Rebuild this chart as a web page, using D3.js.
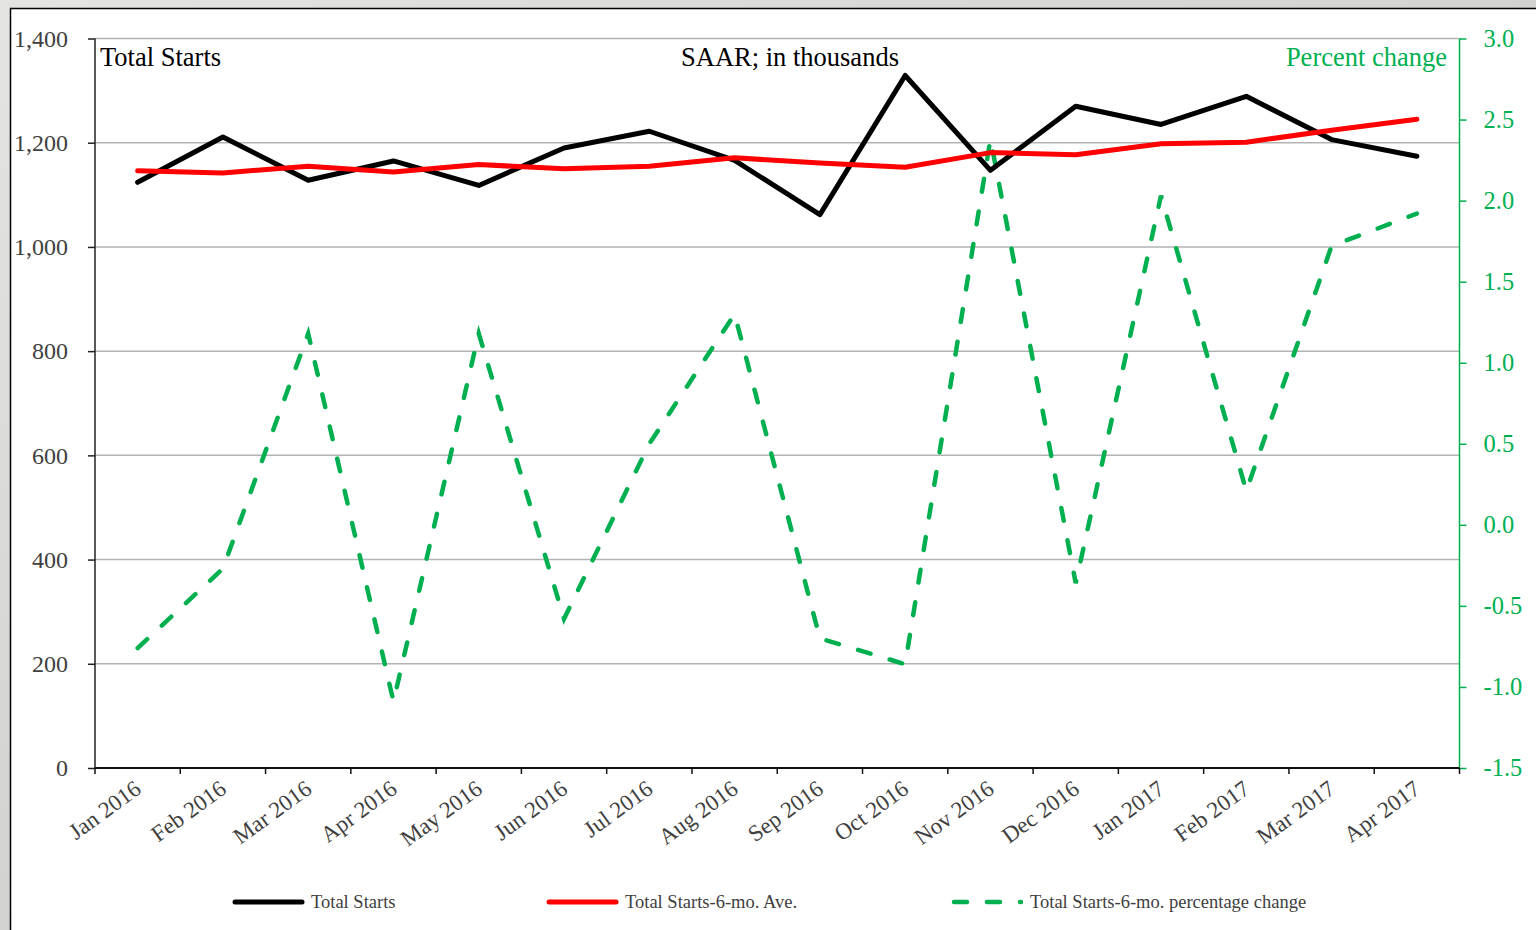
<!DOCTYPE html>
<html>
<head>
<meta charset="utf-8">
<script src="https://cdn.jsdelivr.net/npm/d3@7"></script>
<style>
  html, body { margin: 0; padding: 0; background: #dcdcd8; }
  svg { display: block; }
</style>
</head>
<body>
<svg id="chart"></svg>
<script>
let months = ["Jan 2016", "Feb 2016", "Mar 2016", "Apr 2016", "May 2016", "Jun 2016",
              "Jul 2016", "Aug 2016", "Sep 2016", "Oct 2016", "Nov 2016", "Dec 2016",
              "Jan 2017", "Feb 2017", "Mar 2017", "Apr 2017"];

let totalStarts = [1124, 1211, 1128, 1165, 1118, 1190, 1222, 1166,
                   1062, 1329, 1147, 1270, 1235, 1289, 1206, 1174];

let sixMoAve = [1146, 1142, 1155, 1144, 1158, 1150, 1155, 1171,
                1161, 1153, 1181, 1177, 1198, 1201, 1224, 1245];

let pctChange = [-0.76, -0.27, 1.18, -1.09, 1.18, -0.58, 0.50, 1.30,
                 -0.70, -0.86, 2.38, -0.36, 2.03, 0.21, 1.72, 1.92];

let leftTicks = [0, 200, 400, 600, 800, 1000, 1200, 1400];
let rightTicks = [-1.5, -1.0, -0.5, 0.0, 0.5, 1.0, 1.5, 2.0, 2.5, 3.0];

let width = 1536;
let height = 930;
let plotLeft = 95;
let plotRight = 1459.5;
let plotTop = 38.5;
let plotBottom = 768;

let green = "#00B050";
let serif = "'Liberation Serif', 'Times New Roman', serif";

let svg = d3.select("#chart")
    .attr("width", width)
    .attr("height", height);

// background and frame
let defs = svg.append("defs");
let grad = defs.append("linearGradient")
    .attr("id", "bg")
    .attr("x1", "0").attr("y1", "0").attr("x2", "1").attr("y2", "1");
grad.append("stop").attr("offset", "0").attr("stop-color", "#e4e4e0");
grad.append("stop").attr("offset", "0.5").attr("stop-color", "#d2d2ce");
grad.append("stop").attr("offset", "1").attr("stop-color", "#e2e2de");

svg.append("rect")
    .attr("width", width)
    .attr("height", height)
    .attr("fill", "url(#bg)");

svg.append("rect")
    .attr("x", 10.5)
    .attr("y", 8.5)
    .attr("width", width)
    .attr("height", height)
    .attr("fill", "white")
    .attr("stroke", "black")
    .attr("stroke-width", 1.5);

// scales
let xScale = d3.scaleBand()
    .domain(months)
    .range([plotLeft, plotRight]);

let xMid = (d) => xScale(d) + xScale.bandwidth() / 2;

let yLeft = d3.scaleLinear()
    .domain([0, 1400])
    .range([plotBottom, plotTop]);

let yRight = d3.scaleLinear()
    .domain([-1.5, 3])
    .range([plotBottom, plotTop]);

// gridlines
svg.append("g")
    .selectAll("line")
    .data(leftTicks.filter(d => d > 0))
    .enter()
    .append("line")
    .attr("x1", plotLeft)
    .attr("x2", plotRight)
    .attr("y1", d => yLeft(d))
    .attr("y2", d => yLeft(d))
    .attr("stroke", "#b3b3b3")
    .attr("stroke-width", 1.5);

// left axis
let yAxisLeft = d3.axisLeft(yLeft)
    .tickValues(leftTicks)
    .tickFormat(d3.format(","))
    .tickSize(7)
    .tickPadding(20);

let gl = svg.append("g")
    .attr("transform", "translate(" + plotLeft + ",0)")
    .call(yAxisLeft);
gl.select(".domain").remove();
gl.selectAll(".tick line").attr("stroke", "#222").attr("stroke-width", 1.5);
gl.selectAll(".tick text")
    .attr("fill", "#404040")
    .style("font-family", serif)
    .style("font-size", "24px");

svg.append("line")
    .attr("x1", plotLeft).attr("x2", plotLeft)
    .attr("y1", plotTop).attr("y2", plotBottom)
    .attr("stroke", "#222")
    .attr("stroke-width", 1.5);

// right axis
let yAxisRight = d3.axisRight(yRight)
    .tickValues(rightTicks)
    .tickFormat(d => d.toFixed(1))
    .tickSize(7)
    .tickPadding(17);

let gr = svg.append("g")
    .attr("transform", "translate(" + plotRight + ",0)")
    .call(yAxisRight);
gr.select(".domain").remove();
gr.selectAll(".tick line").attr("stroke", green).attr("stroke-width", 1.5);
gr.selectAll(".tick text")
    .attr("fill", green)
    .style("font-family", serif)
    .style("font-size", "24.5px");

svg.append("line")
    .attr("x1", plotRight).attr("x2", plotRight)
    .attr("y1", plotTop).attr("y2", plotBottom)
    .attr("stroke", green)
    .attr("stroke-width", 1.5);

// x axis
let tickEdges = months.map(d => xScale(d)).concat([plotRight]);

svg.append("line")
    .attr("x1", plotLeft).attr("x2", plotRight)
    .attr("y1", plotBottom).attr("y2", plotBottom)
    .attr("stroke", "#111")
    .attr("stroke-width", 2);

svg.append("g")
    .selectAll("line")
    .data(tickEdges)
    .enter()
    .append("line")
    .attr("x1", d => d).attr("x2", d => d)
    .attr("y1", plotBottom).attr("y2", plotBottom + 6)
    .attr("stroke", "#111")
    .attr("stroke-width", 1.5);

svg.append("g")
    .selectAll("text")
    .data(months)
    .enter()
    .append("text")
    .attr("transform", d => "translate(" + (xMid(d) + 5) + "," + (plotBottom + 24) + ")rotate(-36)")
    .attr("text-anchor", "end")
    .attr("fill", "#404040")
    .style("font-family", serif)
    .style("font-size", "23px")
    .text(d => d);

// lines
let lineLeft = d3.line()
    .x((d, i) => xMid(months[i]))
    .y(d => yLeft(d));

let lineRight = d3.line()
    .x((d, i) => xMid(months[i]))
    .y(d => yRight(d));

svg.append("path")
    .datum(pctChange)
    .attr("d", lineRight)
    .attr("fill", "none")
    .attr("stroke", green)
    .attr("stroke-width", 4.5)
    .attr("stroke-dasharray", "13,20")
    .attr("stroke-linecap", "round");

svg.append("path")
    .datum(totalStarts)
    .attr("d", lineLeft)
    .attr("fill", "none")
    .attr("stroke", "black")
    .attr("stroke-width", 5)
    .attr("stroke-linejoin", "round")
    .attr("stroke-linecap", "round");

svg.append("path")
    .datum(sixMoAve)
    .attr("d", lineLeft)
    .attr("fill", "none")
    .attr("stroke", "#FF0000")
    .attr("stroke-width", 5)
    .attr("stroke-linejoin", "round")
    .attr("stroke-linecap", "round");

// titles inside plot
svg.append("text")
    .attr("x", 100)
    .attr("y", 66)
    .attr("fill", "black")
    .style("font-family", serif)
    .style("font-size", "26.5px")
    .text("Total Starts");

svg.append("text")
    .attr("x", 790)
    .attr("y", 66)
    .attr("text-anchor", "middle")
    .attr("fill", "black")
    .style("font-family", serif)
    .style("font-size", "26.5px")
    .text("SAAR; in thousands");

svg.append("text")
    .attr("x", 1447)
    .attr("y", 66)
    .attr("text-anchor", "end")
    .attr("fill", green)
    .style("font-family", serif)
    .style("font-size", "26.5px")
    .text("Percent change");

// legend
let legendItems = [
    {name: "Total Starts", color: "black", dash: null, x: 235},
    {name: "Total Starts-6-mo. Ave.", color: "#FF0000", dash: null, x: 549},
    {name: "Total Starts-6-mo. percentage change", color: green, dash: "13,20", x: 954}
];

let legend = svg.append("g").attr("transform", "translate(0,902)");

legendItems.forEach((item) => {
    legend.append("line")
        .attr("x1", item.x)
        .attr("x2", item.dash ? item.x + 67 : item.x + 67)
        .attr("y1", 0).attr("y2", 0)
        .attr("stroke", item.color)
        .attr("stroke-width", item.dash ? 4.5 : 5)
        .attr("stroke-linecap", "round")
        .attr("stroke-dasharray", item.dash);
    legend.append("text")
        .attr("x", item.x + 76)
        .attr("y", 6)
        .attr("fill", "#404040")
        .style("font-family", serif)
        .style("font-size", "18.5px")
        .text(item.name);
});
</script>
</body>
</html>
